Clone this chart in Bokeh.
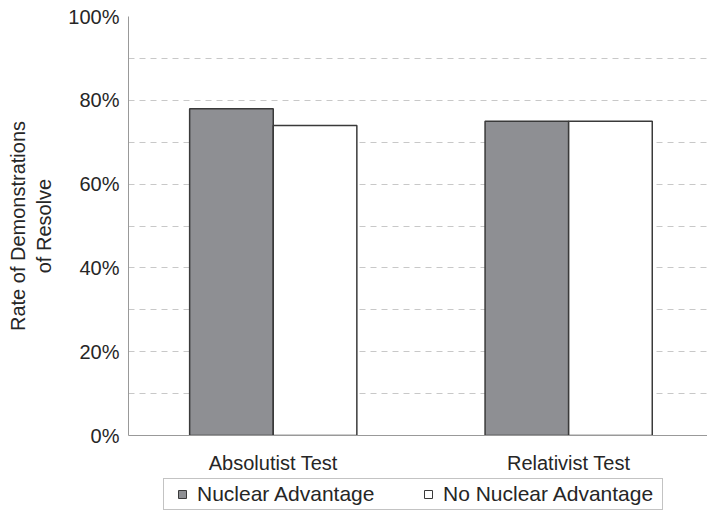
from bokeh.plotting import figure
from bokeh.layouts import column
from bokeh.models import (Range1d, FixedTicker, PrintfTickFormatter, Legend, LegendItem,
                          ColumnDataSource)
from bokeh.embed import file_html
from bokeh.resources import INLINE

categories = ["Absolutist Test", "Relativist Test"]
nuclear_advantage = [78, 75]
no_nuclear_advantage = [74, 75]
series_names = ["Nuclear Advantage", "No Nuclear Advantage"]
y_ticks = [0, 20, 40, 60, 80, 100]
grid_ticks = [10, 20, 30, 40, 50, 60, 70, 80, 90, 100]

FONT = "Liberation Sans"
TXT = "#262626"
EDGE = "#3a3a3a"
GRAY = "#8e8f93"
bw = 0.283
xs = list(range(len(categories)))

p = figure(width=707, height=478, output_backend="svg", toolbar_location=None,
           x_range=Range1d(-0.49, 1.47), y_range=Range1d(0, 100),
           min_border_top=16, min_border_right=0, min_border_left=128, min_border_bottom=43)
p.outline_line_color = None
p.background_fill_color = "white"

src_n = ColumnDataSource(dict(x=[v - bw / 2 for v in xs], top=nuclear_advantage))
src_w = ColumnDataSource(dict(x=[v + bw / 2 for v in xs], top=no_nuclear_advantage))
p.vbar(x="x", top="top", width=bw, bottom=0, source=src_n,
       fill_color=GRAY, line_color=EDGE, line_width=1.5)
p.vbar(x="x", top="top", width=bw, bottom=0, source=src_w,
       fill_color="white", line_color=EDGE, line_width=1.5)

# axes
p.xaxis.ticker = FixedTicker(ticks=xs)
p.xaxis.major_label_overrides = {i: c for i, c in enumerate(categories)}
p.xaxis.major_tick_line_color = None
p.xaxis.major_tick_out = 0
p.xaxis.major_tick_in = 0
p.xaxis.minor_tick_line_color = None
p.xaxis.minor_tick_out = 0
p.xaxis.minor_tick_in = 0
p.xaxis.axis_line_color = "#999999"
p.xaxis.major_label_text_font = FONT
p.xaxis.major_label_text_font_size = "20px"
p.xaxis.major_label_text_color = TXT
p.xaxis.major_label_standoff = 16

p.yaxis.ticker = FixedTicker(ticks=y_ticks)
p.yaxis.formatter = PrintfTickFormatter(format="%d%%")
p.yaxis.major_tick_line_color = None
p.yaxis.major_tick_out = 0
p.yaxis.major_tick_in = 0
p.yaxis.minor_tick_line_color = None
p.yaxis.minor_tick_out = 0
p.yaxis.minor_tick_in = 0
p.yaxis.axis_line_color = "#999999"
p.yaxis.major_label_text_font = FONT
p.yaxis.major_label_text_font_size = "20px"
p.yaxis.major_label_text_color = TXT
p.yaxis.major_label_standoff = 9
p.yaxis.axis_label = "Rate of Demonstrations\nof Resolve"
p.yaxis.axis_label_text_font = FONT
p.yaxis.axis_label_text_font_size = "20px"
p.yaxis.axis_label_text_font_style = "normal"
p.yaxis.axis_label_text_color = TXT
p.yaxis.axis_label_standoff = 10

p.xgrid.grid_line_color = None
p.ygrid.ticker = FixedTicker(ticks=grid_ticks)
p.ygrid.grid_line_color = "#c8c8c8"
p.ygrid.grid_line_dash = "6 5"
p.ygrid.grid_line_width = 1

# legend strip below the chart (key renderers sit outside the visible range)
lg = figure(width=707, height=34, output_backend="svg", toolbar_location=None,
            x_range=Range1d(0, 1), y_range=Range1d(0, 1),
            x_axis_type=None, y_axis_type=None,
            min_border_top=0, min_border_right=0, min_border_left=0, min_border_bottom=0)
lg.outline_line_color = None
lg.xgrid.visible = False
lg.ygrid.visible = False
k1 = lg.scatter(x=[5], y=[5], marker="square", fill_color=GRAY, line_color=EDGE, line_width=1)
k2 = lg.scatter(x=[5], y=[5], marker="square", fill_color="white", line_color=EDGE, line_width=1)

legend = Legend(items=[LegendItem(label=series_names[0], renderers=[k1]),
                       LegendItem(label=series_names[1], renderers=[k2])],
                orientation="horizontal", location=(35, 2),
                label_text_font=FONT, label_text_font_size="21px", label_text_color=TXT,
                glyph_width=30, glyph_height=20, label_standoff=0, spacing=0,
                label_width=216, padding=3, margin=0,
                border_line_color="#888888", border_line_width=1, label_height=18)
lg.add_layout(legend, "center")

layout = column(p, lg, spacing=0)
open("out.html", "w").write(file_html(layout, INLINE))
